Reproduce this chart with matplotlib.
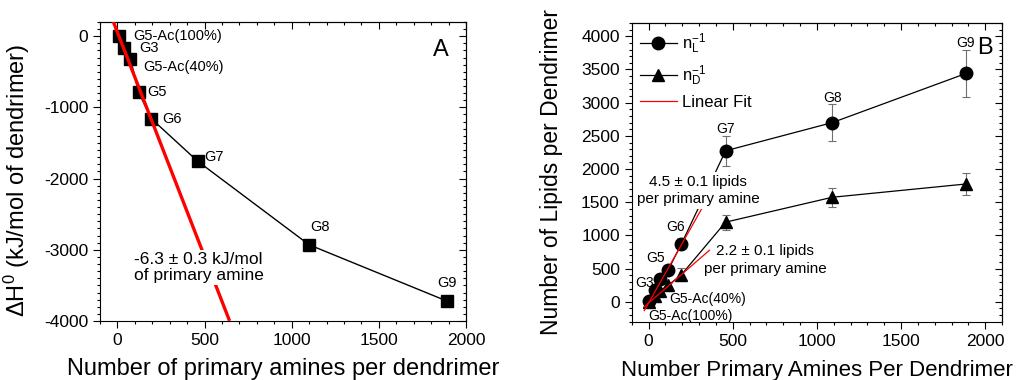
import numpy as np
import matplotlib.pyplot as plt
from matplotlib.lines import Line2D
from matplotlib.ticker import MultipleLocator

plt.rcParams['font.family'] = ['Liberation Sans', 'DejaVu Sans']
plt.rcParams['mathtext.default'] = 'regular'
plt.rcParams['axes.unicode_minus'] = False

# 数据 A: 结合焓
names = ['G5-Ac(100%)', 'G3', 'G5-Ac(40%)', 'G5', 'G6', 'G7', 'G8', 'G9']
amines_a = [10, 40, 75, 122, 195, 460, 1100, 1890]
dH = [0, -170, -320, -790, -1160, -1755, -2930, -3720]
fit_a_x = [-25, 640]
fit_a_slope = -6.3
fit_a_icpt = 55

# 数据 B: 每个树枝状分子的脂质数
amines_b = [5, 36, 68, 118, 196, 458, 1092, 1886]
n_L = [10, 175, 350, 485, 875, 2275, 2700, 3440]
n_L_err = [20, 30, 40, 50, 80, 225, 275, 350]
n_D = [0, 90, 170, 250, 410, 1200, 1575, 1775]
n_D_err = [10, 20, 25, 40, 100, 115, 145, 170]
fit_L_x = [-25, 325]
fit_L_slope = 4.5
fit_L_icpt = -20
fit_D_x = [-25, 362]
fit_D_slope = 2.2
fit_D_icpt = -20


def style_axes(ax, xmin, xmax, ymin, ymax, xmaj, ymaj, xmin_loc, ymin_loc):
    ax.set_xlim(xmin, xmax)
    ax.set_ylim(ymin, ymax)
    ax.xaxis.set_major_locator(MultipleLocator(xmaj))
    ax.yaxis.set_major_locator(MultipleLocator(ymaj))
    ax.xaxis.set_minor_locator(MultipleLocator(xmin_loc))
    ax.yaxis.set_minor_locator(MultipleLocator(ymin_loc))
    ax.tick_params(which='both', direction='out', labelsize=12.5, width=0.8)
    ax.tick_params(which='major', length=5)
    ax.tick_params(which='minor', length=2.5)
    # 顶部和右侧的刻度朝内
    top = ax.secondary_xaxis('top')
    top.xaxis.set_major_locator(MultipleLocator(xmaj))
    top.xaxis.set_minor_locator(MultipleLocator(xmin_loc))
    top.tick_params(which='both', direction='in', labeltop=False, width=0.8)
    top.tick_params(which='major', length=5)
    top.tick_params(which='minor', length=2.5)
    right = ax.secondary_yaxis('right')
    right.yaxis.set_major_locator(MultipleLocator(ymaj))
    right.yaxis.set_minor_locator(MultipleLocator(ymin_loc))
    right.tick_params(which='both', direction='in', labelright=False, width=0.8)
    right.tick_params(which='major', length=5)
    right.tick_params(which='minor', length=2.5)


fig = plt.figure(figsize=(10.18, 3.8), dpi=100)

# ---- 图 A ----
ax1 = fig.add_axes([0.0982, 0.1553, 0.3596, 0.787])
ax1.plot(amines_a, dH, color='k', lw=1, marker='s', ms=8, zorder=3)
fx = np.array(fit_a_x)
ax1.plot(fx, fit_a_slope * fx + fit_a_icpt, color='red', lw=2.4, zorder=4)
style_axes(ax1, -100, 2000, -4000, 200, 500, 1000, 100, 100)
ax1.set_xlabel('Number of primary amines per dendrimer', fontsize=17, labelpad=7)
ax1.set_ylabel('ΔH$^{0}$ (kJ/mol of dendrimer)', fontsize=17)
ax1.yaxis.set_label_coords(-0.185, 0.47)

offs_a = [(10, 0, 'left', 'center'), (11, 0, 'left', 'center'),
          (9, -6, 'left', 'center'), (6, 0, 'left', 'center'),
          (8, 0, 'left', 'center'), (5, 3, 'left', 'center'),
          (8, 8, 'center', 'bottom'), (0, 8, 'center', 'bottom')]
for name, x, y, (dx, dy, ha, va) in zip(names, amines_a, dH, offs_a):
    ax1.annotate(name, (x, y), xytext=(dx, dy), textcoords='offset points',
                 ha=ha, va=va, fontsize=10.5, zorder=6)
ax1.text(465, -3250, '-6.3 ± 0.3 kJ/mol\nof primary amine', fontsize=12.5,
         ha='center', va='center', linespacing=1.15, zorder=5,
         bbox=dict(facecolor='white', edgecolor='none', pad=1))
ax1.text(0.93, 0.905, 'A', transform=ax1.transAxes, fontsize=17,
         ha='center', va='center')

# ---- 图 B ----
ax2 = fig.add_axes([0.6205, 0.1534, 0.3638, 0.786])
ax2.errorbar(amines_b, n_L, yerr=n_L_err, fmt='none', ecolor='#707070',
             elinewidth=0.8, capsize=3, capthick=0.8, zorder=2)
ax2.errorbar(amines_b, n_D, yerr=n_D_err, fmt='none', ecolor='#707070',
             elinewidth=0.8, capsize=3, capthick=0.8, zorder=2)
ax2.plot(amines_b, n_L, color='k', lw=0.9, marker='o', ms=9, zorder=3)
ax2.plot(amines_b, n_D, color='k', lw=0.9, marker='^', ms=9, zorder=3)
fx = np.array(fit_L_x)
ax2.plot(fx, fit_L_slope * fx + fit_L_icpt, color='red', lw=0.9, zorder=4)
fx = np.array(fit_D_x)
ax2.plot(fx, fit_D_slope * fx + fit_D_icpt, color='red', lw=0.9, zorder=4)
style_axes(ax2, -100, 2100, -300, 4200, 500, 500, 100, 100)
ax2.set_xlabel('Number Primary Amines Per Dendrimer', fontsize=16, labelpad=8)
ax2.set_ylabel('Number of Lipids per Dendrimer', fontsize=16.5)
ax2.yaxis.set_label_coords(-0.186, 0.5)

lab_b = [('G5-Ac(100%)', amines_b[0], n_D[0], -1, -10, 'left', 'center'),
         ('G3', amines_b[1], n_L[1], -7, 5, 'center', 'center'),
         ('G5-Ac(40%)', amines_b[2], n_D[2], 7, -6, 'left', 'center'),
         ('G5', amines_b[3], n_L[3], -9, 8, 'center', 'center'),
         ('G6', amines_b[4], n_L[4], -4, 12, 'center', 'center'),
         ('G7', amines_b[5], n_L[5], 0, 11, 'center', 'bottom'),
         ('G8', amines_b[6], n_L[6], 0, 13, 'center', 'bottom'),
         ('G9', amines_b[7], n_L[7], 0, 17, 'center', 'bottom')]
for name, x, y, dx, dy, ha, va in lab_b:
    ax2.annotate(name, (x, y), xytext=(dx, dy), textcoords='offset points',
                 ha=ha, va=va, fontsize=10, zorder=6)
ax2.text(295, 1680, '4.5 ± 0.1 lipids\nper primary amine', fontsize=11,
         ha='center', va='center', linespacing=1.3, zorder=5,
         bbox=dict(facecolor='white', edgecolor='none', pad=2))
ax2.text(693, 630, '2.2 ± 0.1 lipids\nper primary amine', fontsize=11,
         ha='center', va='center', linespacing=1.3, zorder=5)
ax2.text(0.955, 0.915, 'B', transform=ax2.transAxes, fontsize=17,
         ha='center', va='center')

handles = [Line2D([], [], color='k', lw=0.9, marker='o', ms=9),
           Line2D([], [], color='k', lw=0.9, marker='^', ms=9),
           Line2D([], [], color='red', lw=0.9)]
labels = ['n$_{L}^{-1}$', 'n$_{D}^{-1}$', 'Linear Fit']
ax2.legend(handles, labels, loc='upper left', frameon=False, fontsize=12,
           handlelength=2.2, handletextpad=0.3, borderaxespad=0.2,
           labelspacing=0.45, borderpad=0.3)

plt.savefig('out.png', dpi=100)
